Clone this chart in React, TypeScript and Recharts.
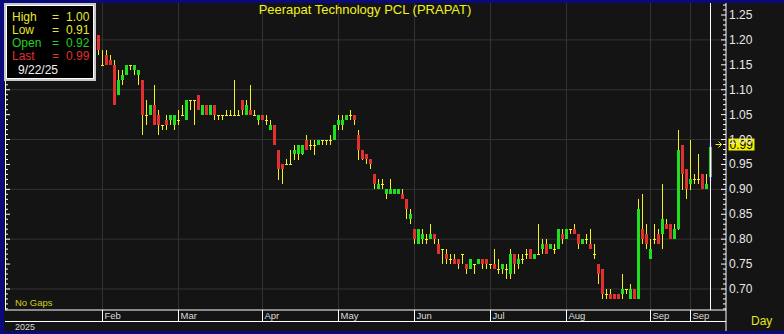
import React from 'react';
import { ComposedChart, Bar, XAxis, YAxis, CartesianGrid, ReferenceLine, ReferenceDot } from 'recharts';

// daily bars, Jan 31 2025 .. Sep 22 2025 (index 0..153)
const opens = [
  1.21, 1.15, 1.17, 1.16, 1.15, 1.09, 1.12, 1.13, 1.15, 1.14,
  1.13, 1.12, 1.05, 1.05, 1.07, 1.05, 1.03, 1.04, 1.04, 1.03,
  1.04, 1.05, 1.04, 1.08, 1.08, 1.09, 1.05, 1.07, 1.05, 1.07,
  1.05, 1.05, 1.05, 1.05, 1.05, 1.05, 1.08, 1.05, 1.06, 1.05,
  1.04, 1.05, 1.04, 1.02, 1.03, 0.98, 0.95, 0.95, 0.95, 0.97,
  0.97, 0.97, 1.0, 0.99, 0.99, 0.99, 1.0, 1.0, 1.0, 1.0,
  1.03, 1.03, 1.04, 1.05, 1.05, 1.01, 0.98, 0.97, 0.96, 0.93,
  0.9, 0.91, 0.89, 0.89, 0.89, 0.89, 0.89, 0.88, 0.84, 0.82,
  0.79, 0.8, 0.8, 0.8, 0.81, 0.79, 0.78, 0.77, 0.76, 0.76,
  0.76, 0.77, 0.75, 0.74, 0.75, 0.75, 0.76, 0.76, 0.75, 0.75,
  0.74, 0.74, 0.74, 0.73, 0.77, 0.75, 0.76, 0.77, 0.78, 0.76,
  0.77, 0.78, 0.79, 0.78, 0.78, 0.78, 0.81, 0.8, 0.82, 0.82,
  0.81, 0.79, 0.8, 0.79, 0.77, 0.75, 0.74, 0.69, 0.69, 0.69,
  0.69, 0.69, 0.7, 0.68, 0.7, 0.68, 0.82, 0.81, 0.76, 0.8,
  0.81, 0.81, 0.83, 0.83, 0.8, 0.82, 0.99, 0.94, 0.91, 0.92,
  0.92, 0.93, 0.9, 0.92,
];
const highs = [
  1.21, 1.18, 1.18, 1.17, 1.16, 1.14, 1.14, 1.15, 1.15, 1.15,
  1.14, 1.12, 1.08, 1.07, 1.11, 1.06, 1.03, 1.05, 1.05, 1.05,
  1.06, 1.07, 1.08, 1.08, 1.08, 1.09, 1.07, 1.07, 1.07, 1.07,
  1.05, 1.05, 1.06, 1.06, 1.12, 1.06, 1.08, 1.08, 1.11, 1.06,
  1.05, 1.05, 1.05, 1.04, 1.03, 0.98, 0.95, 0.96, 0.98, 0.99,
  0.99, 0.99, 1.01, 1.0, 1.0, 1.0, 1.0, 1.0, 1.01, 1.03,
  1.05, 1.05, 1.05, 1.06, 1.05, 1.02, 0.98, 0.97, 0.96, 0.93,
  0.92, 0.92, 0.9, 0.92, 0.9, 0.9, 0.9, 0.88, 0.86, 0.82,
  0.82, 0.82, 0.81, 0.83, 0.81, 0.8, 0.78, 0.78, 0.77, 0.77,
  0.76, 0.77, 0.75, 0.76, 0.75, 0.76, 0.76, 0.76, 0.75, 0.78,
  0.76, 0.75, 0.75, 0.78, 0.77, 0.77, 0.77, 0.78, 0.78, 0.77,
  0.83, 0.8, 0.8, 0.79, 0.79, 0.82, 0.82, 0.82, 0.82, 0.83,
  0.81, 0.8, 0.81, 0.82, 0.79, 0.75, 0.74, 0.7, 0.7, 0.69,
  0.69, 0.73, 0.7, 0.71, 0.7, 0.88, 0.89, 0.83, 0.8, 0.83,
  0.82, 0.91, 0.84, 0.83, 0.83, 1.02, 0.99, 0.94, 1.0, 0.93,
  0.97, 0.93, 0.93, 1.0,
];
const lows = [
  1.17, 1.15, 1.15, 1.15, 1.07, 1.09, 1.11, 1.13, 1.14, 1.13,
  1.11, 1.01, 1.03, 1.05, 1.03, 1.01, 1.02, 1.02, 1.03, 1.02,
  1.03, 1.05, 1.04, 1.06, 1.03, 1.06, 1.05, 1.05, 1.05, 1.04,
  1.04, 1.04, 1.05, 1.05, 1.05, 1.05, 1.05, 1.05, 1.05, 1.05,
  1.03, 1.04, 1.03, 1.02, 0.99, 0.92, 0.91, 0.95, 0.95, 0.96,
  0.96, 0.97, 0.98, 0.98, 0.97, 0.99, 0.99, 0.99, 0.99, 1.0,
  1.02, 1.02, 1.04, 1.04, 1.03, 0.96, 0.96, 0.95, 0.94, 0.9,
  0.9, 0.9, 0.88, 0.89, 0.89, 0.89, 0.88, 0.84, 0.83, 0.79,
  0.79, 0.79, 0.79, 0.8, 0.79, 0.77, 0.75, 0.75, 0.75, 0.75,
  0.74, 0.75, 0.73, 0.74, 0.73, 0.75, 0.74, 0.74, 0.74, 0.74,
  0.73, 0.73, 0.72, 0.72, 0.73, 0.74, 0.75, 0.76, 0.76, 0.76,
  0.77, 0.77, 0.77, 0.78, 0.77, 0.78, 0.79, 0.8, 0.81, 0.81,
  0.78, 0.79, 0.79, 0.78, 0.76, 0.71, 0.68, 0.68, 0.68, 0.68,
  0.68, 0.68, 0.69, 0.68, 0.68, 0.68, 0.79, 0.78, 0.76, 0.79,
  0.79, 0.78, 0.82, 0.8, 0.8, 0.82, 0.9, 0.88, 0.9, 0.91,
  0.91, 0.9, 0.9, 0.91,
];
const closes = [
  1.18, 1.15, 1.15, 1.15, 1.07, 1.12, 1.13, 1.15, 1.15, 1.15,
  1.14, 1.05, 1.05, 1.07, 1.03, 1.03, 1.03, 1.03, 1.05, 1.05,
  1.04, 1.05, 1.08, 1.08, 1.08, 1.06, 1.07, 1.05, 1.07, 1.05,
  1.05, 1.05, 1.05, 1.05, 1.05, 1.05, 1.06, 1.07, 1.05, 1.05,
  1.05, 1.04, 1.04, 1.03, 0.99, 0.94, 0.94, 0.95, 0.95, 0.98,
  0.99, 0.99, 0.98, 0.99, 0.99, 1.0, 1.0, 1.0, 1.0, 1.03,
  1.04, 1.04, 1.05, 1.05, 1.04, 0.98, 0.96, 0.96, 0.95, 0.91,
  0.91, 0.91, 0.9, 0.9, 0.9, 0.9, 0.88, 0.86, 0.85, 0.8,
  0.82, 0.81, 0.8, 0.81, 0.8, 0.77, 0.78, 0.76, 0.76, 0.75,
  0.75, 0.77, 0.74, 0.76, 0.75, 0.76, 0.75, 0.75, 0.75, 0.74,
  0.74, 0.75, 0.74, 0.77, 0.75, 0.76, 0.76, 0.77, 0.76, 0.77,
  0.77, 0.79, 0.77, 0.79, 0.78, 0.82, 0.8, 0.82, 0.82, 0.81,
  0.79, 0.8, 0.8, 0.78, 0.77, 0.73, 0.69, 0.69, 0.68, 0.68,
  0.68, 0.7, 0.7, 0.7, 0.68, 0.86, 0.8, 0.79, 0.78, 0.8,
  0.79, 0.84, 0.82, 0.8, 0.82, 0.98, 0.93, 0.9, 0.92, 0.92,
  0.92, 0.9, 0.91, 0.99,
];

const lastDate = '9/22/25';
const title = 'Peerapat Technology PCL (PRAPAT)';

// first trading day shown for each month label
const monthTicks = [1, 20, 41, 60, 79, 98, 117, 138, 148];
const monthLabels = ['Feb', 'Mar', 'Apr', 'May', 'Jun', 'Jul', 'Aug', 'Sep', 'Sep'];
const gridPrices = [0.7, 0.8, 0.9, 1.0, 1.1, 1.2];

const Y_MIN = 0.6578;
const Y_MAX = 1.2741;
const X_DOMAIN = [-23.375, 156.875];
const PLOT_LEFT = 5;
const LAST = closes.length - 1;

// minor ticks every 0.01, labelled every 0.05
const priceTicks: number[] = [];
for (let c = 66; c <= 127; c++) priceTicks.push(c / 100);

const data = opens.map((o, i) => ({
  idx: i,
  open: o,
  high: highs[i],
  low: lows[i],
  close: closes[i],
  range: [lows[i], highs[i]],
}));

const YELLOW = '#f2f21c';
const GREEN = '#1fe01f';
const RED = '#e23030';
const FONT = '"Liberation Sans", Arial, sans-serif';

const Candle = (props: any) => {
  const { x, y, width, height, payload, index } = props;
  const cx = Math.floor(x + width / 2);
  const { open, close, high, low } = payload;
  const k = high > low ? height / (high - low) : 0;
  const py = (v: number) => y + (high - v) * k;
  const top = Math.round(py(Math.max(open, close)));
  const bot = Math.round(py(Math.min(open, close)));
  const isLast = index === LAST;
  return (
    <g>
      <rect x={cx} y={Math.round(y)} width={1} height={Math.max(1, Math.round(height))} fill={YELLOW} />
      {open === close ? (
        <rect x={cx - 1} y={top} width={3} height={1} fill={YELLOW} />
      ) : isLast ? (
        <g>
          <rect x={cx - 1} y={top} width={3} height={bot - top} fill="#8c8c8c" />
          <rect x={cx - 1} y={top} width={1} height={bot - top} fill={GREEN} />
          <rect x={cx - 1} y={top - 2} width={3} height={4} fill="#1c1c8c" />
          <rect x={cx - 1} y={bot - 2} width={3} height={4} fill="#1c1c8c" />
        </g>
      ) : (
        <rect x={cx - 1} y={top} width={3} height={bot - top} fill={close > open ? GREEN : RED} />
      )}
    </g>
  );
};

const PriceTick = (props: any) => {
  const { x, y, payload } = props;
  const cents = Math.round(payload.value * 100);
  const major = cents % 5 === 0;
  const len = major ? 5 : 3;
  return (
    <g>
      <line x1={x - len} x2={x} y1={y} y2={y} stroke="#fff" />
      <line x1={PLOT_LEFT} x2={PLOT_LEFT + len} y1={y} y2={y} stroke="#fff" />
      {major && cents >= 70 && cents <= 125 && (
        <text x={x + 3} y={y + 4} fontSize={12} fill="#e8e8e8" fontFamily={FONT}>
          {(cents / 100).toFixed(2)}
        </text>
      )}
    </g>
  );
};

const MonthTick = (props: any) => {
  const { x, y, payload } = props;
  const label = monthLabels[monthTicks.indexOf(payload.value)];
  return (
    <g>
      <line x1={x} x2={x} y1={y} y2={y + 11} stroke="#fff" />
      <text x={x + 2} y={y + 9} fontSize={9.5} fill="#dcdcdc" fontFamily={FONT}>
        {label}
      </text>
    </g>
  );
};

const PriceFlag = (props: any) => {
  const { cx, cy } = props;
  return (
    <g>
      <path
        d={`M${cx + 5} ${cy}H${cx + 11}M${cx + 8} ${cy - 3}L${cx + 11} ${cy}L${cx + 8} ${cy + 3}`}
        stroke={YELLOW}
        fill="none"
      />
      <rect x={cx + 18} y={cy - 6} width={26} height={12} fill="#f0f000" />
      <text x={cx + 19} y={cy + 4.5} fontSize={12} fill="#000" fontFamily={FONT}>
        {closes[LAST].toFixed(2)}
      </text>
    </g>
  );
};

const legendRows = [
  { label: 'High', value: highs[LAST], color: '#e8e82a' },
  { label: 'Low', value: lows[LAST], color: '#e8e82a' },
  { label: 'Open', value: opens[LAST], color: '#22d022' },
  { label: 'Last', value: closes[LAST], color: '#e03030' },
];

export default function App() {
  return (
    <div
      style={{
        position: 'absolute',
        left: 0,
        top: 0,
        width: 784,
        height: 334,
        background: '#141414',
        overflow: 'hidden',
      }}
    >
      <ComposedChart width={784} height={334} data={data} margin={{ top: 3, right: 0, left: PLOT_LEFT, bottom: 0 }}>
        <CartesianGrid
          stroke="#333"
          fill="none"
          horizontalValues={gridPrices}
          verticalValues={monthTicks}
        />
        <XAxis
          dataKey="idx"
          type="number"
          domain={X_DOMAIN}
          allowDataOverflow
          ticks={monthTicks}
          interval={0}
          height={24}
          tickSize={0}
          tickMargin={0}
          tickLine={false}
          axisLine={{ stroke: '#fff' }}
          tick={MonthTick}
        />
        <YAxis
          orientation="right"
          type="number"
          domain={[Y_MIN, Y_MAX]}
          allowDataOverflow
          ticks={priceTicks}
          interval={0}
          width={58}
          tickSize={0}
          tickMargin={0}
          tickLine={false}
          axisLine={{ stroke: '#fff' }}
          tick={PriceTick}
        />
        <Bar dataKey="range" shape={Candle} isAnimationActive={false} />
        <ReferenceLine x={LAST} stroke="#fff" />
        <ReferenceDot x={LAST} y={closes[LAST]} r={0} ifOverflow="visible" shape={PriceFlag} />
      </ComposedChart>

      <svg
        width={784}
        height={334}
        style={{ position: 'absolute', left: 0, top: 0, pointerEvents: 'none' }}
        fontFamily={FONT}
      >
        <line x1={5.5} x2={5.5} y1={3} y2={310} stroke="#fff" />
        <line x1={726} x2={726} y1={310} y2={331} stroke="#fff" />
        <line x1={5} x2={726} y1={321.5} y2={321.5} stroke="#fff" />
        <rect x={0} y={0} width={784} height={3} fill="#0a0a7c" />
        <rect x={0} y={0} width={4} height={334} fill="#0a0a7c" />
        <rect x={0} y={331} width={784} height={3} fill="#0a0a7c" />

        <text x={365} y={14} fontSize={13} fill={YELLOW} textAnchor="middle">
          {title}
        </text>

        <rect x={5} y={4} width={90} height={76} fill="#000" stroke="#c8c8c8" strokeWidth={2} />
        <rect x={6.5} y={5.5} width={87} height={73} fill="none" stroke="#ffffff" strokeWidth={1} />
        {legendRows.map((r, i) => (
          <g key={r.label} fill={r.color} fontSize={12}>
            <text x={12} y={21 + i * 13}>{r.label}</text>
            <text x={52} y={21 + i * 13}>=</text>
            <text x={66} y={21 + i * 13}>{r.value.toFixed(2)}</text>
          </g>
        ))}
        <text x={18} y={73.5} fontSize={12} fill="#f0f0f0">
          {lastDate}
        </text>

        <text x={15} y={306} fontSize={9.5} fill="#d2d214">
          No Gaps
        </text>
        <text x={15} y={330} fontSize={9} fill="#dcdcdc">
          2025
        </text>
        <text x={751} y={325} fontSize={12} fill="#e6e61c">
          Day
        </text>
      </svg>
    </div>
  );
}
